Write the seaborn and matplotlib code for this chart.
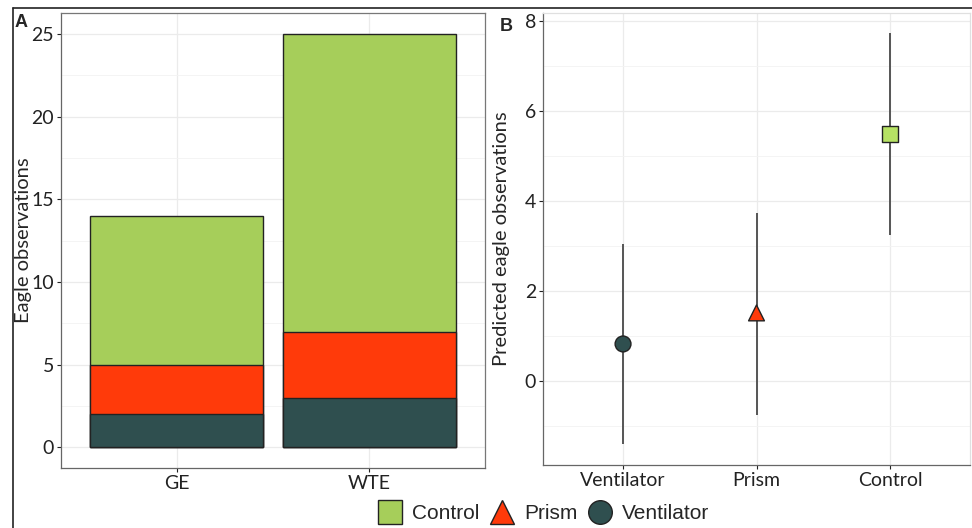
import seaborn as sns
import matplotlib.pyplot as plt
import numpy as np
import pandas as pd
from matplotlib.lines import Line2D
from matplotlib.ticker import MultipleLocator

# Panel A: observed eagles per site, stacked by treatment
sites = ['GE', 'WTE']
ventilator_obs = [2, 3]
prism_obs = [3, 4]
control_obs = [9, 18]

# Panel B: predicted eagle observations with intervals
treatments = ['Ventilator', 'Prism', 'Control']
predicted = [0.82, 1.51, 5.49]
lower = [-1.41, -0.75, 3.24]
upper = [3.05, 3.72, 7.72]

colors = {'Control': '#A6CE5A', 'Prism': '#FF3A0A', 'Ventilator': '#2F4F4F'}
marker_fill = {'Control': '#B6E264', 'Prism': '#FF3A0A', 'Ventilator': '#2F4F4F'}
markers = {'Control': 's', 'Prism': '^', 'Ventilator': 'o'}

sns.set_theme(style='whitegrid')
plt.rcParams['font.family'] = ['Lato', 'DejaVu Sans']

fig = plt.figure(figsize=(9.72, 5.28), dpi=100)
ax_a = fig.add_axes([0.0628, 0.1136, 0.4362, 0.8614])
ax_b = fig.add_axes([0.5586, 0.1193, 0.4394, 0.8557])

# outer frame of the figure
fig.add_artist(Line2D([13 / 972, 13 / 972], [0, 1 - 8 / 528], color='#222222', lw=1.2))
fig.add_artist(Line2D([13 / 972, 1], [1 - 8 / 528, 1 - 8 / 528], color='#222222', lw=1.2))

# --- A: stacked bars, drawn from the top layer down
df = pd.DataFrame({'site': sites, 'Ventilator': ventilator_obs,
                   'Prism': prism_obs, 'Control': control_obs})
df['top_prism'] = df['Ventilator'] + df['Prism']
df['top_control'] = df['top_prism'] + df['Control']
for col, name in [('top_control', 'Control'), ('top_prism', 'Prism'), ('Ventilator', 'Ventilator')]:
    sns.barplot(data=df, x='site', y=col, color=colors[name], width=0.9,
                saturation=1, edgecolor='#222222', linewidth=1, ax=ax_a, zorder=3)

ax_a.set_xlim(-0.6, 1.6)
ax_a.set_ylim(-1.25, 26.25)
ax_a.yaxis.set_major_locator(MultipleLocator(5))
ax_a.yaxis.set_minor_locator(MultipleLocator(2.5))
ax_a.set_xlabel('')
ax_a.set_ylabel('Eagle observations', fontsize=14.5)
ax_a.yaxis.set_label_coords(-0.069, 0.5)
ax_a.text(-0.11, 0.998, 'A', transform=ax_a.transAxes, fontsize=13, fontweight='bold',
          family='Liberation Sans', va='top')

# --- B: predicted values with intervals
pred = pd.DataFrame({'treatment': treatments, 'fit': predicted, 'lo': lower, 'hi': upper})
ax_b.vlines(range(len(treatments)), pred['lo'], pred['hi'], color='#555555', lw=1.4, zorder=3)
sns.scatterplot(data=pred, x='treatment', y='fit', hue='treatment', style='treatment',
                palette=marker_fill, markers=markers, s=130, edgecolor='#222222',
                linewidth=1, legend=False, ax=ax_b, zorder=4)

ax_b.set_xlim(-0.6, 2.6)
ax_b.set_ylim(-1.87, 8.17)
ax_b.yaxis.set_major_locator(MultipleLocator(2))
ax_b.yaxis.set_minor_locator(MultipleLocator(1))
ax_b.set_xlabel('')
ax_b.set_ylabel('Predicted eagle observations', fontsize=14.5)
ax_b.yaxis.set_label_coords(-0.077, 0.5)
ax_b.text(-0.102, 0.99, 'B', transform=ax_b.transAxes, fontsize=13, fontweight='bold',
          family='Liberation Sans', va='top')

for ax in (ax_a, ax_b):
    ax.set_axisbelow(True)
    ax.grid(which='major', color='#EBEBEB', lw=0.9)
    ax.grid(which='minor', color='#F3F3F3', lw=0.6)
    ax.tick_params(axis='both', labelsize=14, colors='#222222', length=3, width=0.8,
                   direction='out', left=True, bottom=True, pad=2)
    ax.tick_params(which='minor', length=0)
    for s in ax.spines.values():
        s.set_color('#B0B0B0')
        s.set_linewidth(0.9)
    ax.spines['left'].set_color('#666666')
    ax.spines['bottom'].set_color('#666666')
ax_a.spines['top'].set_color('#777777')
ax_a.spines['right'].set_color('#777777')
ax_b.spines['top'].set_color('#E0E0E0')
ax_b.spines['right'].set_color('#E0E0E0')

# legend at the bottom
handles = [Line2D([], [], ls='', marker=markers[n], markersize=17, markerfacecolor=colors[n],
                  markeredgecolor='#222222', markeredgewidth=1, label=n)
           for n in ['Control', 'Prism', 'Ventilator']]
fig.legend(handles=handles, loc='center', bbox_to_anchor=(0.557, 0.027), ncol=3, frameon=False,
           prop={'family': 'Liberation Sans', 'size': 15}, handletextpad=0.25, columnspacing=0.3,
           handlelength=1.6, borderaxespad=0)

fig.savefig('out.png', dpi=100)
